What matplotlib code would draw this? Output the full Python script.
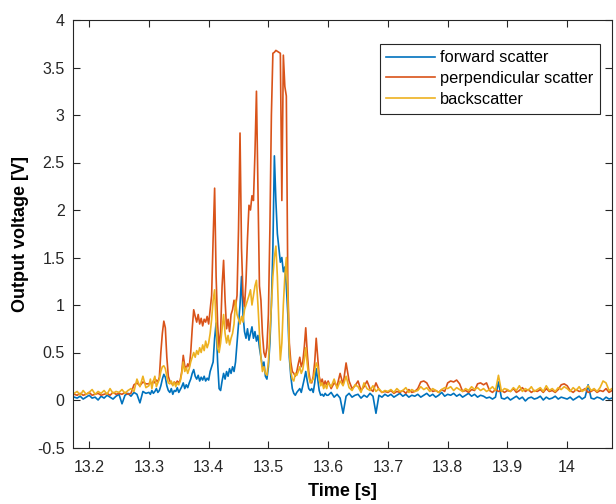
import matplotlib
matplotlib.use("Agg")
import matplotlib.pyplot as plt
import numpy as np

# sample times: coarse before/after the burst, fine inside it
t_pre = np.linspace(13.175, 13.295, 25)
t_mid = np.linspace(13.300, 13.5975, 120)
t_post = np.linspace(13.600, 14.075, 96)
time = np.concatenate([t_pre, t_mid, t_post])

forward_pre = [0.03, 0.02, 0.04, 0.01, 0.03, 0.05, 0.02, 0.03, 0.00, 0.04, 0.02, 0.05, 0.03,
               0.01, 0.04, 0.06, -0.04, 0.05, 0.07, 0.04, 0.08, 0.06, -0.03, 0.09, 0.07]
forward_mid = [0.08, 0.06, 0.10, 0.07, 0.09, 0.12, 0.08, 0.10, 0.15, 0.22, 0.27, 0.24, 0.15, 0.10,
               0.08, 0.12, 0.06, 0.10, 0.09, 0.13, 0.08, 0.11, 0.14, 0.18, 0.12, 0.16, 0.13, 0.18,
               0.22, 0.28, 0.32, 0.25, 0.22, 0.26, 0.20, 0.24, 0.21, 0.25, 0.20, 0.23, 0.21, 0.30,
               0.35, 0.40, 0.65, 0.81, 0.40, 0.12, 0.10, 0.20, 0.28, 0.22, 0.30, 0.25, 0.33, 0.28,
               0.35, 0.30, 0.40, 0.60, 0.80, 1.00, 1.30, 0.90, 0.72, 0.65, 0.75, 0.63, 0.70, 0.77,
               0.65, 0.72, 0.62, 0.68, 0.55, 0.45, 0.35, 0.40, 0.25, 0.22, 0.35, 0.60, 1.00, 1.60,
               2.57, 2.10, 1.75, 1.60, 1.45, 1.50, 1.35, 1.40, 1.20, 0.90, 0.45, 0.25, 0.12, 0.07,
               0.05, 0.08, 0.10, 0.12, 0.08, 0.15, 0.22, 0.30, 0.20, 0.12, 0.10, 0.12, 0.08, 0.18,
               0.33, 0.22, 0.10, 0.05, 0.06, 0.04, 0.07, 0.05]
forward_post = [0.05, 0.08, 0.03, 0.06, 0.02, -0.14, 0.04, 0.07, 0.03, 0.05,
                0.06, 0.02, 0.05, 0.03, 0.07, 0.04, -0.14, 0.05, 0.03, 0.06,
                0.04, 0.06, 0.03, 0.05, 0.07, 0.04, 0.06, 0.03, 0.05, 0.04,
                0.06, 0.03, 0.05, 0.07, 0.04, 0.06, 0.03, 0.05, 0.08, 0.04,
                0.06, 0.05, 0.07, 0.04, 0.06, 0.03, 0.05, 0.07, 0.04, 0.06,
                0.03, 0.05, 0.04, 0.02, 0.03, 0.01, 0.03, 0.19, 0.02, 0.01,
                0.03, 0.00, 0.02, 0.04, 0.01, 0.03, -0.01, 0.02, 0.03, 0.01,
                0.02, 0.04, 0.00, 0.03, 0.01, 0.02, 0.04, 0.01, 0.03, 0.02,
                0.01, 0.03, 0.00, 0.02, 0.04, 0.01, 0.03, 0.16, 0.02, 0.01,
                0.03, 0.02, 0.00, 0.03, 0.01, 0.02]

perp_pre = [0.06, 0.05, 0.07, 0.05, 0.06, 0.08, 0.05, 0.06, 0.07, 0.05, 0.06, 0.07, 0.05,
            0.08, 0.06, 0.07, 0.06, 0.08, 0.06, 0.07, 0.16, 0.18, 0.15, 0.19, 0.17]
perp_mid = [0.17, 0.19, 0.16, 0.20, 0.18, 0.21, 0.19, 0.24, 0.50, 0.70, 0.83, 0.76, 0.45, 0.25,
            0.20, 0.18, 0.16, 0.19, 0.17, 0.20, 0.18, 0.21, 0.30, 0.47, 0.36, 0.33, 0.38, 0.35,
            0.50, 0.75, 0.95, 0.88, 0.82, 0.90, 0.80, 0.86, 0.78, 0.85, 0.82, 0.88, 0.80, 0.95,
            1.10, 1.70, 2.23, 1.30, 0.80, 0.55, 0.72, 1.20, 1.47, 1.05, 0.75, 0.85, 0.72, 0.90,
            0.95, 1.05, 0.98, 1.10, 1.80, 2.81, 1.60, 1.10, 0.98, 1.25, 1.70, 2.05, 2.00, 2.15,
            2.10, 2.60, 3.25, 2.20, 1.20, 1.05, 0.70, 0.50, 0.45, 0.55, 0.90, 1.80, 3.00, 3.65,
            3.66, 3.68, 3.67, 3.66, 3.65, 2.10, 3.63, 3.30, 3.20, 1.20, 0.60, 0.40, 0.30, 0.28,
            0.25, 0.30, 0.38, 0.45, 0.35, 0.40, 0.55, 0.76, 0.50, 0.30, 0.20, 0.18, 0.25, 0.40,
            0.65, 0.45, 0.25, 0.18, 0.22, 0.15, 0.20, 0.16]
perp_post = [0.20, 0.12, 0.18, 0.15, 0.28, 0.16, 0.39, 0.20, 0.12, 0.15,
             0.20, 0.10, 0.14, 0.20, 0.12, 0.09, 0.18, 0.11, 0.08, 0.09,
             0.08, 0.10, 0.07, 0.09, 0.08, 0.10, 0.07, 0.11, 0.08, 0.09,
             0.12, 0.19, 0.20, 0.18, 0.12, 0.09, 0.10, 0.08, 0.11, 0.09,
             0.18, 0.20, 0.19, 0.21, 0.17, 0.09, 0.10, 0.08, 0.11, 0.10,
             0.17, 0.18, 0.16, 0.18, 0.10, 0.08, 0.11, 0.09, 0.10, 0.08,
             0.10, 0.09, 0.12, 0.08, 0.10, 0.13, 0.09, 0.11, 0.08, 0.10,
             0.09, 0.11, 0.08, 0.12, 0.09, 0.10, 0.08, 0.11, 0.16, 0.17,
             0.15, 0.10, 0.08, 0.11, 0.09, 0.10, 0.12, 0.08, 0.09, 0.11,
             0.08, 0.10, 0.09, 0.12, 0.08, 0.10]

back_pre = [0.07, 0.09, 0.05, 0.10, 0.06, 0.08, 0.11, 0.06, 0.09, 0.07, 0.10, 0.06, 0.12,
            0.07, 0.09, 0.08, 0.11, 0.07, 0.10, 0.12, 0.09, 0.22, 0.14, 0.25, 0.13]
back_mid = [0.15, 0.22, 0.12, 0.20, 0.25, 0.14, 0.18, 0.22, 0.30, 0.35, 0.36, 0.33, 0.25, 0.18,
            0.17, 0.20, 0.15, 0.19, 0.14, 0.18, 0.16, 0.20, 0.28, 0.40, 0.30, 0.34, 0.28, 0.33,
            0.40, 0.45, 0.50, 0.45, 0.52, 0.48, 0.55, 0.50, 0.58, 0.52, 0.62, 0.55, 0.60, 0.70,
            0.85, 1.05, 1.16, 0.80, 0.55, 0.50, 0.60, 0.75, 0.90, 0.70, 0.60, 0.68, 0.58, 0.65,
            0.70, 0.80, 1.05, 0.90, 0.85, 0.80, 0.88, 0.82, 0.95, 1.00, 1.05, 1.10, 1.16, 1.00,
            1.10, 1.20, 1.26, 1.00, 0.70, 0.45, 0.30, 0.35, 0.28, 0.26, 0.40, 0.70, 1.00, 1.30,
            1.50, 1.62, 1.30, 0.80, 0.42, 0.60, 1.00, 1.30, 1.50, 1.10, 0.50, 0.30, 0.22, 0.20,
            0.28, 0.26, 0.30, 0.35, 0.28, 0.32, 0.42, 0.55, 0.38, 0.25, 0.18, 0.20, 0.22, 0.30,
            0.39, 0.35, 0.22, 0.15, 0.18, 0.12, 0.16, 0.12]
back_post = [0.18, 0.14, 0.22, 0.12, 0.20, 0.15, 0.25, 0.13, 0.10, 0.16,
             0.14, 0.08, 0.18, 0.12, 0.10, 0.15, 0.09, 0.12, 0.08, 0.10,
             0.09, 0.11, 0.08, 0.12, 0.09, 0.10, 0.13, 0.08, 0.11, 0.09,
             0.10, 0.14, 0.11, 0.13, 0.09, 0.12, 0.10, 0.08, 0.11, 0.13,
             0.12, 0.14, 0.10, 0.13, 0.11, 0.09, 0.12, 0.10, 0.14, 0.11,
             0.13, 0.10, 0.12, 0.09, 0.11, 0.14, 0.10, 0.26, 0.09, 0.12,
             0.11, 0.09, 0.13, 0.10, 0.15, 0.09, 0.12, 0.10, 0.14, 0.09,
             0.11, 0.13, 0.09, 0.15, 0.10, 0.12, 0.09, 0.13, 0.11, 0.14,
             0.12, 0.09, 0.13, 0.10, 0.14, 0.09, 0.11, 0.15, 0.10, 0.12,
             0.09, 0.13, 0.20, 0.18, 0.10, 0.12]

forward = np.array(forward_pre + forward_mid + forward_post)
perp = np.array(perp_pre + perp_mid + perp_post)
back = np.array(back_pre + back_mid + back_post)

plt.rcParams['font.family'] = ['Liberation Sans', 'DejaVu Sans']
ink = '#262626'

fig = plt.figure(figsize=(6.16, 5.04), dpi=100)
ax = fig.add_axes([73 / 616, 1 - 447.5 / 504, 539 / 616, 427.5 / 504])

ax.plot(time, forward, color='#0072BD', lw=1.2, label='forward scatter')
ax.plot(time, perp, color='#D95319', lw=1.2, label='perpendicular scatter')
ax.plot(time, back, color='#EDB120', lw=1.2, label='backscatter')

ax.set_xlim(13.173, 14.075)
ax.set_ylim(-0.5, 4)
ax.set_xticks(np.arange(13.2, 14.05, 0.1))
ax.set_xticklabels(['13.2', '13.3', '13.4', '13.5', '13.6', '13.7', '13.8', '13.9', '14'])
ax.set_yticks(np.arange(-0.5, 4.01, 0.5))
ax.set_yticklabels(['-0.5', '0', '0.5', '1', '1.5', '2', '2.5', '3', '3.5', '4'])
ax.tick_params(direction='in', top=True, right=True, length=5, width=0.8,
               colors=ink, labelsize=11.5)
ax.tick_params(axis='x', pad=9)
ax.tick_params(axis='y', pad=6)
for s in ax.spines.values():
    s.set_color(ink)
    s.set_linewidth(0.8)

ax.set_xlabel('Time [s]', fontsize=13, fontweight='bold', color='black', labelpad=6)
ax.set_ylabel('Output voltage [V]', fontsize=13, fontweight='bold', color='black', labelpad=6)

leg = ax.legend(loc='upper right', bbox_to_anchor=(0.978, 0.944), borderaxespad=0,
                fontsize=11.8, handlelength=3.0, handletextpad=0.3, labelspacing=0.35,
                fancybox=False, framealpha=1, edgecolor=ink, borderpad=0.4)
leg.get_frame().set_linewidth(0.8)

fig.savefig('out.png', dpi=100)
